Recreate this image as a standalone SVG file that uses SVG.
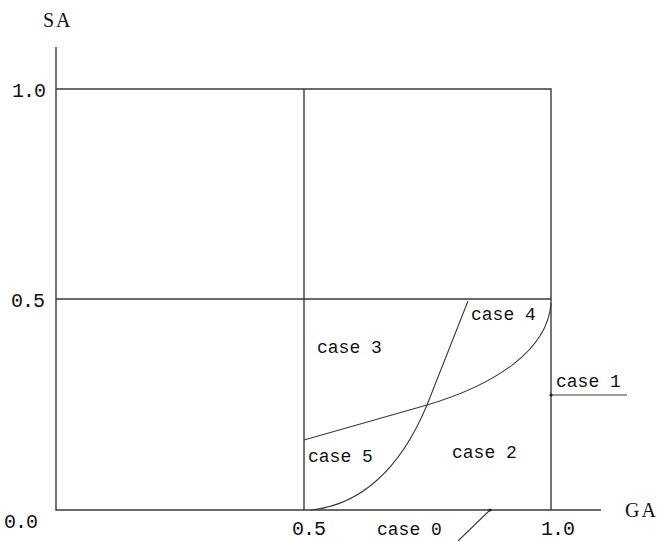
<svg xmlns="http://www.w3.org/2000/svg" width="659" height="541" viewBox="0 0 659 541">
<style>
.ln{fill:none;stroke:#3a3a3a;stroke-width:1.4}
.cv{fill:none;stroke:#3a3a3a;stroke-width:1.1}
.t{font-family:"Liberation Mono",monospace;font-size:18px;fill:#111}
.num{font-family:"Liberation Mono",monospace;font-size:20px;letter-spacing:-1px;fill:#111}
.ax{font-family:"Liberation Serif",serif;font-size:20px;letter-spacing:2px;fill:#111}
.dot{fill:#222}
</style>
<rect width="659" height="541" fill="#fff"/>
<g id="connectors">
<path class="ln" d="M56,47 V510 H601"/>
<path class="ln" d="M56,89 H551 V510"/>
<path class="ln" d="M304,89 V510"/>
<path class="ln" d="M56,299 H551"/>
<path class="cv" d="M311,510 C360,505 400,470 427,405 L468,301"/>
<path class="cv" d="M304,440 L427,405 C495,385 548,350 551,303"/>
<path class="cv" d="M551,395 H627"/>
<path class="cv" d="M490,510 L458,541"/>
<circle class="dot" cx="551" cy="395" r="1.6"/>
<circle class="dot" cx="490" cy="510" r="1.6"/>
</g>
<g id="axis-labels">
<text class="ax" x="43" y="27">SA</text>
<text class="ax" x="625" y="517">GA</text>
<text class="num" x="12" y="97">1.0</text>
<text class="num" x="11" y="307">0.5</text>
<text class="num" x="4" y="528">0.0</text>
<text class="num" x="292" y="535">0.5</text>
<text class="num" x="541" y="535">1.0</text>
</g>
<g id="case0"><text class="t" x="377" y="535">case 0</text></g>
<g id="case1"><text class="t" x="556" y="387">case 1</text></g>
<g id="case2"><text class="t" x="452" y="458">case 2</text></g>
<g id="case3"><text class="t" x="317" y="353">case 3</text></g>
<g id="case4"><text class="t" x="471" y="320">case 4</text></g>
<g id="case5"><text class="t" x="308" y="462">case 5</text></g>
</svg>
